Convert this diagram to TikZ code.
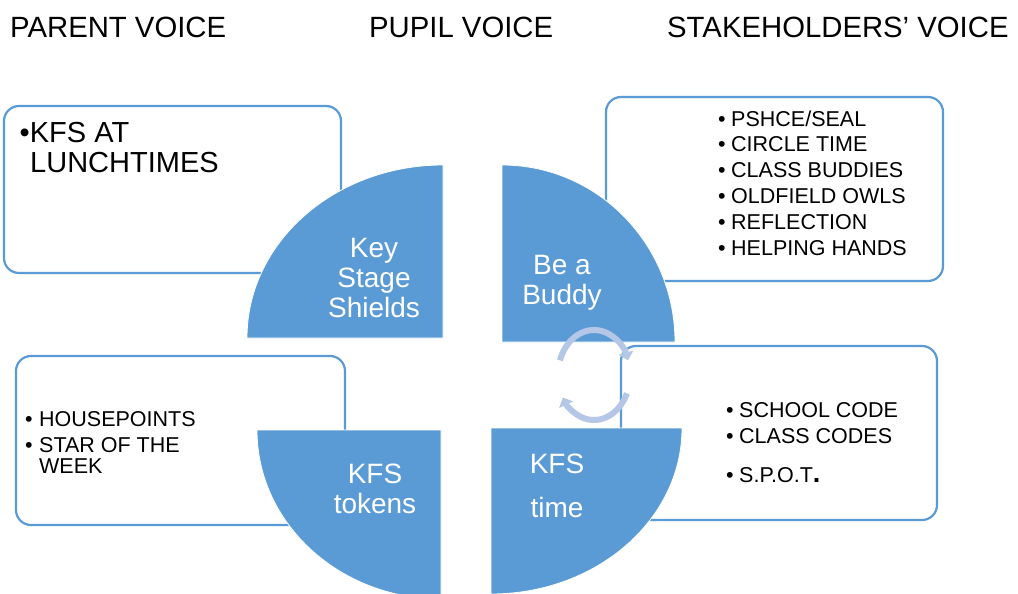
\documentclass[tikz,border=0pt]{standalone}
\usepackage{fontspec}
\setmainfont{Liberation Sans}
\usetikzlibrary{arrows.meta}
\definecolor{qblue}{HTML}{5B9BD5}
\definecolor{lblue}{HTML}{B4C7E7}
\begin{document}
\begin{tikzpicture}[x=1pt,y=1pt,
 box/.style={draw=qblue,line width=2.2pt,rounded corners=15pt,fill=white},
 quarter/.style={fill=qblue,draw=white,line width=0.8pt},
 title/.style={anchor=base west,inner sep=0pt,font=\fontsize{29.3}{32}\selectfont},
 qtext/.style={anchor=base,inner sep=0pt,text=white,font=\fontsize{28}{30}\selectfont},
 btext/.style={anchor=base west,inner sep=0pt,font=\fontsize{21.5}{24}\selectfont},
 bigtext/.style={anchor=base west,inner sep=0pt,font=\fontsize{29}{30}\selectfont},
 bul/.style={anchor=base,inner sep=0pt,font=\fontsize{21.5}{24}\selectfont},
 cyc/.style={draw=lblue,line width=6pt,-{Triangle[width=15pt,length=8pt]}}
]
\useasboundingbox (0,0) rectangle (1018,-594);
\fill[white] (0,0) rectangle (1018,-594);

% titles
\node[title] (tparent) at (10,-38) {PARENT VOICE};
\node[title] (tpupil) at (369,-38) {PUPIL VOICE};
\node[title] (tstake) at (667,-38) {STAKEHOLDERS’ VOICE};

% boxes
\draw[box] (4,-106) rectangle (341,-273);
\draw[box] (16,-356) rectangle (345,-525);
\draw[box] (606,-97) rectangle (943,-281);
\draw[box] (621,-346) rectangle (937,-520);

% quarters
\path[quarter] (443,-338) -- (247,-338) arc[start angle=180,end angle=90,x radius=196,y radius=173] -- cycle;
\path[quarter] (502,-342) -- (502,-165) arc[start angle=90,end angle=0,x radius=173,y radius=177] -- cycle;
\path[quarter] (441,-430) -- (257,-430) arc[start angle=180,end angle=270,x radius=184,y radius=169] -- cycle;
\path[quarter] (491,-428) -- (682,-428) arc[start angle=0,end angle=-90,x radius=191,y radius=166] -- cycle;

% cycle arrows
\draw[cyc] (594,-375) ++(161:36pt and 45pt) arc[start angle=161,end angle=19,x radius=36,y radius=45];
\draw[cyc] (594,-375) ++(-24:36pt and 45pt) arc[start angle=-24,end angle=-150,x radius=36,y radius=45];

% quarter labels
\node[qtext] (q1a) at (374,-257) {Key};
\node[qtext] (q1b) at (374,-287) {Stage};
\node[qtext] (q1c) at (374,-317) {Shields};
\node[qtext] (q2a) at (562,-274) {Be a};
\node[qtext] (q2b) at (562,-304) {Buddy};
\node[qtext] (q3a) at (375,-483) {KFS};
\node[qtext] (q3b) at (375,-513) {tokens};
\node[qtext] (q4a) at (557,-473) {KFS};
\node[qtext] (q4b) at (557,-517) {time};

% top-left box text
\node[bigtext] (p1) at (19.5,-142) {•KFS AT};
\node[bigtext] (p2) at (30,-172) {LUNCHTIMES};

% bottom-left box text
\node[bul] (bb1) at (29,-426) {•};
\node[btext] (bt1) at (39,-426) {HOUSEPOINTS};
\node[bul] (bb2) at (29,-452) {•};
\node[btext] (bt2) at (39,-452) {STAR OF THE};
\node[btext] (bt3) at (39,-473) {WEEK};

% top-right box text
\foreach \t [count=\i] in {PSHCE/SEAL,CIRCLE TIME,CLASS BUDDIES,OLDFIELD OWLS,REFLECTION,HELPING HANDS}{
  \pgfmathsetmacro{\yy}{-126-25.8*(\i-1)}
  \node[bul] (sb\i) at (722,\yy) {•};
  \node[btext] (st\i) at (731,\yy) {\t};
}

% bottom-right box text
\node[bul] (rb1) at (730,-417) {•};
\node[btext] (rt1) at (739,-417) {SCHOOL CODE};
\node[bul] (rb2) at (730,-443) {•};
\node[btext] (rt2) at (739,-443) {CLASS CODES};
\node[bul] (rb3) at (730,-482) {•};
\node[btext] (rt3) at (739,-482) {S.P.O.T\textbf{\fontsize{27}{27}\selectfont .}};
\end{tikzpicture}
\end{document}
